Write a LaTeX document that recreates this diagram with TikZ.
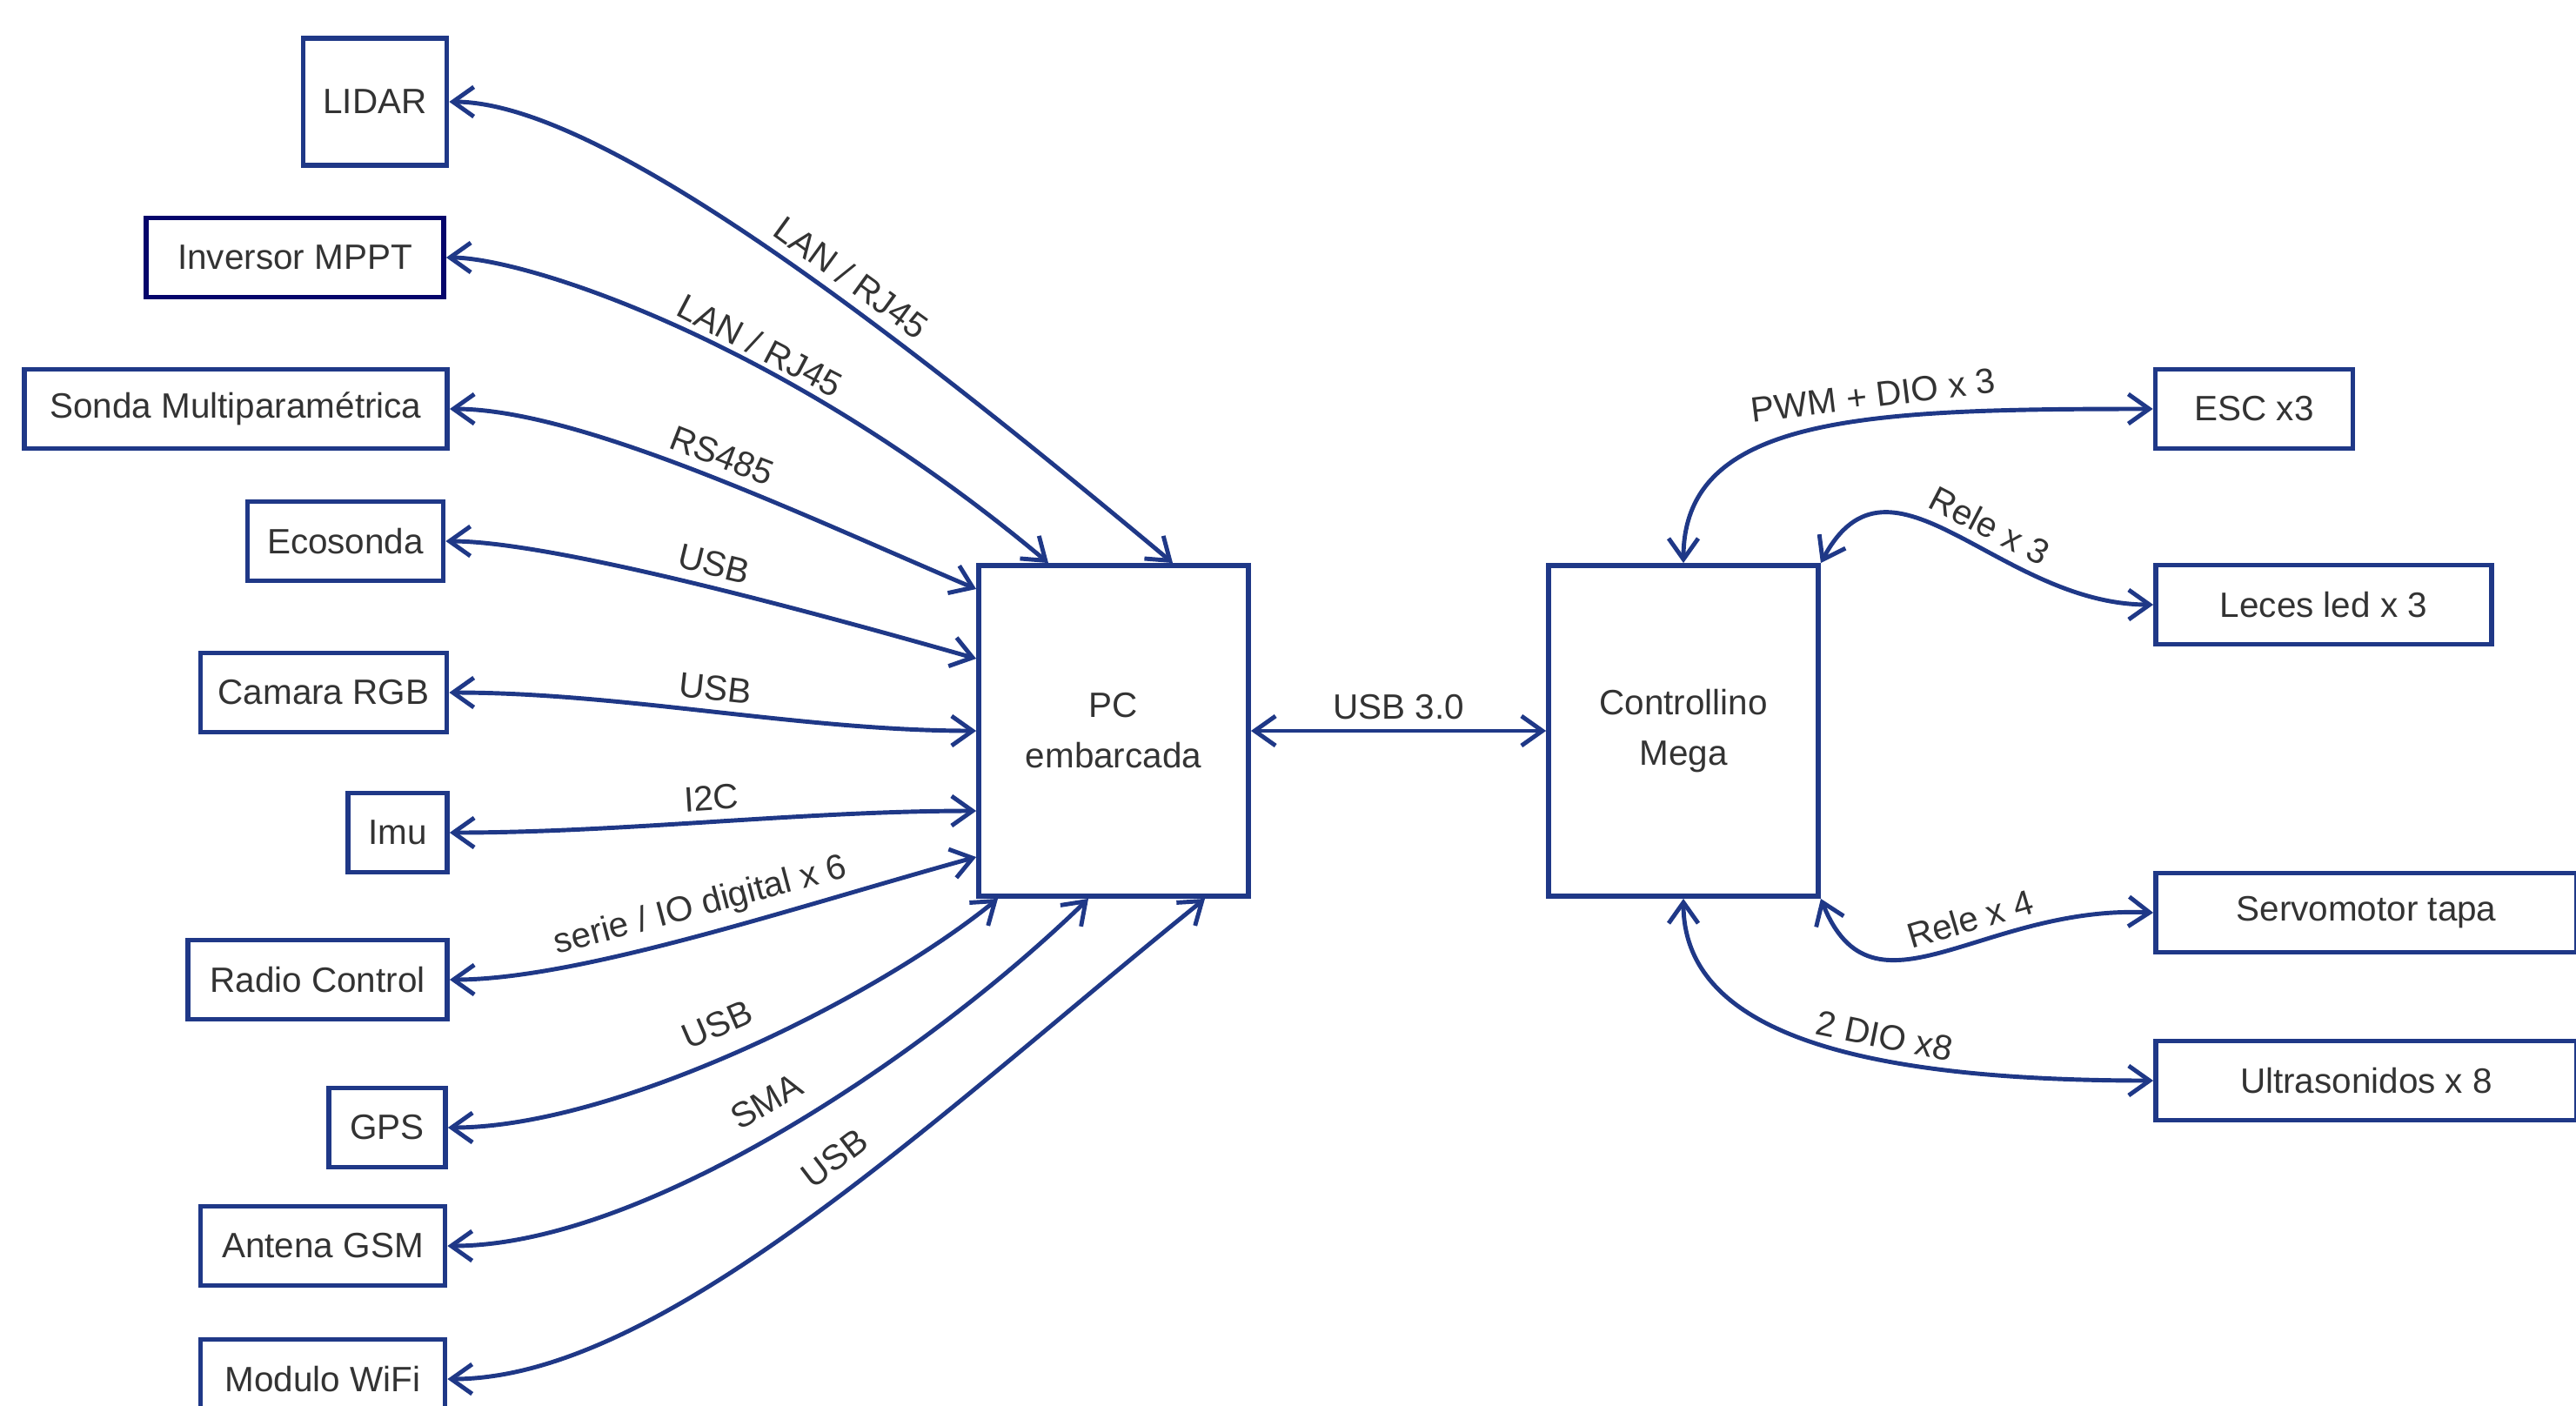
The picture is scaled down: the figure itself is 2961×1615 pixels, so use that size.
\documentclass[tikz,border=0pt]{standalone}
\usepackage{fontspec}
\setmainfont{Liberation Sans}
\usepackage{tikz}
\usetikzlibrary{arrows.meta,positioning,calc}
\definecolor{linkblue}{HTML}{1F3887}
\definecolor{navyline}{HTML}{05056B}
\definecolor{textgray}{HTML}{333333}

\begin{document}
\begin{tikzpicture}[x=0.01cm, y=-0.01cm,
    device/.style={draw=linkblue, line width=1.6pt, text=textgray, align=center,
                   inner sep=0pt, minimum height=0.91cm,
                   font=\fontsize{11.5}{16.5}\selectfont},
    unit/.style={device, minimum width=3.1cm, minimum height=3.8cm},
    arr/.style={{Straight Barb[length=2.4mm,width=3.4mm]}-{Straight Barb[length=2.4mm,width=3.4mm]},
                draw=linkblue, line width=1.4pt},
    link/.style={sloped, above, inner sep=3pt, text=textgray,
                 font=\fontsize{11.5}{13}\selectfont}]
  \useasboundingbox (0,0) rectangle (2961,1615);
  \clip (0,0) rectangle (2961,1615);
  \node[device, minimum width=1.65cm, minimum height=1.46cm] (lidar) at (431,117) {LIDAR};
  \node[device, draw=navyline, minimum width=3.42cm] (mppt) at (339,296) {Inversor MPPT};
  \node[device, minimum width=4.86cm] (sonda) at (271,470) {Sonda Multiparamétrica};
  \node[device, minimum width=2.25cm] (eco) at (397,622) {Ecosonda};
  \node[device, minimum width=2.83cm] (cam) at (372,796) {Camara RGB};
  \node[device, minimum width=1.14cm] (imu) at (457,957) {Imu};
  \node[device, minimum width=2.98cm] (radio) at (365,1126) {Radio Control};
  \node[device, minimum width=1.34cm] (gps) at (445,1296) {GPS};
  \node[device, minimum width=2.81cm] (gsm) at (371,1432) {Antena GSM};
  \node[device, minimum width=2.81cm] (wifi) at (371,1585) {Modulo WiFi};
  \node[unit] (pc) at (1280,840) {PC\\embarcada};
  \node[unit] (ctrl) at (1935,840) {Controllino\\Mega};
  \node[device, minimum width=2.27cm] (esc) at (2591,470) {ESC x3};
  \node[device, minimum width=3.86cm] (leds) at (2671,695) {Leces led x 3};
  \node[device, minimum width=4.84cm] (servo) at (2720,1049) {Servomotor tapa};
  \node[device, minimum width=4.84cm] (ultra) at (2720,1242) {Ultrasonidos x 8};
  \draw[arr] (lidar.east) .. controls +(166,0) and +(-348,-291) .. node[link, pos=0.61] {LAN / RJ45} ($(pc.north)+(68,0)$);
  \draw[arr] (mppt.east) .. controls +(90,0) and +(-305,-256) .. node[link, pos=0.61, inner sep=1.5pt] {LAN / RJ45} ($(pc.north)+(-75,0)$);
  \draw[arr] (sonda.east) .. controls +(150,0) and +(-200,-85) .. node[link, pos=0.53] {RS485} ($(pc.west)+(0,-163)$);
  \draw[arr] (eco.east) .. controls +(120,0) and +(-200,-57) .. node[link, pos=0.54] {USB} ($(pc.west)+(0,-83)$);
  \draw[arr] (cam.east) .. controls +(200,0) and +(-200,0) .. node[link, pos=0.5] {USB} (pc.west);
  \draw[arr] (imu.east) .. controls +(200,0) and +(-200,0) .. node[link, pos=0.5] {I2C} ($(pc.west)+(0,92)$);
  \draw[arr] (radio.east) .. controls +(150,0) and +(-200,55) .. node[link, pos=0.52] {serie / IO digital x 6} ($(pc.west)+(0,145)$);
  \draw[arr] (gps.east) .. controls +(188,0) and +(-147,119) .. node[link, pos=0.49, inner sep=6pt] {USB} ($(pc.south)+(-133,0)$);
  \draw[arr] (gsm.east) .. controls +(228,0) and +(-181,176) .. node[link, pos=0.5, inner sep=6pt] {SMA} ($(pc.south)+(-29,0)$);
  \draw[arr] (wifi.east) .. controls +(248,0) and +(-305,246) .. node[link, pos=0.56, inner sep=6pt] {USB} ($(pc.south)+(105,0)$);
  \draw[arr] (pc.east) -- node[link] {USB 3.0} (ctrl.west);
  \draw[arr] (ctrl.north) .. controls +(0,-170) and +(-328,0) .. node[link, pos=0.62] {PWM + DIO x 3} (esc.west);
  \draw[arr] (ctrl.north east) .. controls +(80,-150) and +(-178,0) .. node[link, pos=0.57] {Rele x 3} (leds.west);
  \draw[arr] (ctrl.south east) .. controls +(60,150) and +(-198,-9) .. node[link, pos=0.6] {Rele x 4} (servo.west);
  \draw[arr] (ctrl.south) .. controls +(0,150) and +(-350,0) .. node[link, pos=0.64] {2 DIO x8} (ultra.west);
\end{tikzpicture}
\end{document}
